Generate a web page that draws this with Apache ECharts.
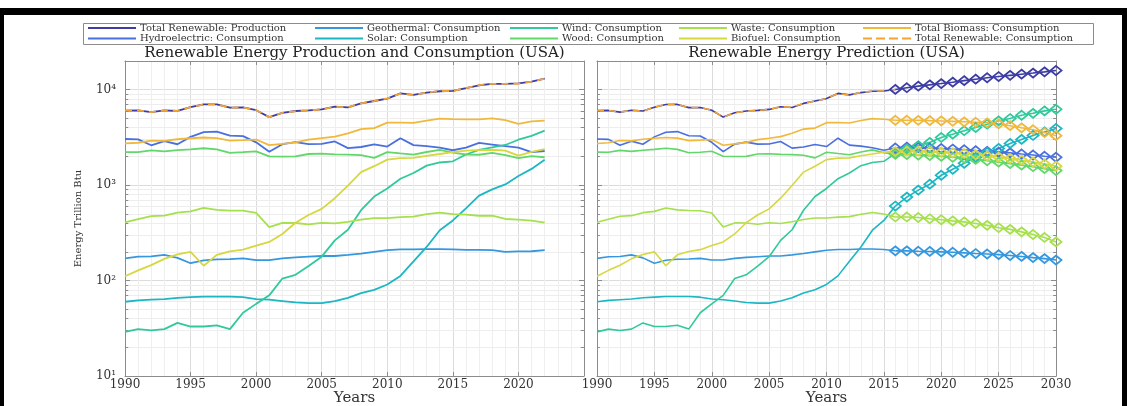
<!DOCTYPE html>
<html>
<head>
<meta charset="utf-8">
<script src="https://cdn.jsdelivr.net/npm/echarts@6/dist/echarts.min.js"></script>
<style>
  html, body { margin: 0; padding: 0; background: #fff; }
  #chart { width: 1127px; height: 406px; }
</style>
</head>
<body>
<div id="chart"></div>
<script>
// ---- Data: US renewable energy, trillion Btu ----
const years = [1990, 1991, 1992, 1993, 1994, 1995, 1996, 1997, 1998, 1999,
               2000, 2001, 2002, 2003, 2004, 2005, 2006, 2007, 2008, 2009,
               2010, 2011, 2012, 2013, 2014, 2015, 2016, 2017, 2018, 2019,
               2020, 2021, 2022];

const totalProduction = [6040, 6069, 5821, 6083, 5988, 6558, 7012, 7014, 6493, 6516,
                         6102, 5163, 5729, 5986, 6082, 6218, 6636, 6521, 7192, 7617,
                         8072, 9148, 8829, 9333, 9641, 9709, 10393, 11138, 11510, 11517,
                         11651, 12165, 13090];
const hydro = [3046, 3016, 2617, 2892, 2683, 3205, 3590, 3640, 3297, 3268,
               2811, 2242, 2689, 2825, 2690, 2703, 2869, 2446, 2511, 2669,
               2539, 3103, 2629, 2562, 2467, 2321, 2472, 2767, 2663, 2564,
               2470, 2220, 2280];
const geothermal = [171, 178, 179, 186, 173, 152, 163, 167, 168, 171,
                    164, 164, 171, 175, 178, 181, 181, 186, 192, 200,
                    208, 212, 212, 214, 214, 212, 210, 210, 209, 200,
                    202, 203, 208];
const solar = [60, 62, 63, 64, 66, 67, 68, 68, 68, 67,
               64, 63, 61, 59, 58, 58, 61, 66, 74, 80,
               91, 112, 159, 225, 337, 427, 570, 777, 904, 1017,
               1247, 1480, 1850];
const wind = [29, 31, 30, 31, 36, 33, 33, 34, 31, 46,
              57, 70, 105, 115, 142, 178, 264, 341, 546, 760,
              923, 1168, 1340, 1601, 1728, 1777, 2096, 2343, 2482, 2637,
              2993, 3285, 3720];
const wood = [2216, 2214, 2313, 2260, 2324, 2370, 2437, 2371, 2184, 2214,
              2262, 2006, 1995, 2002, 2121, 2137, 2099, 2089, 2059, 1931,
              2216, 2149, 2086, 2225, 2341, 2190, 2095, 2082, 2182, 2061,
              1915, 2010, 1960];
const waste = [408, 440, 473, 479, 515, 531, 577, 551, 542, 540,
               511, 364, 402, 401, 389, 403, 397, 413, 436, 452,
               452, 462, 468, 496, 516, 498, 490, 478, 480, 442,
               435, 425, 405];
const biofuel = [111, 128, 145, 169, 188, 200, 143, 186, 202, 211,
                 233, 254, 308, 404, 487, 564, 730, 990, 1370, 1580,
                 1850, 1920, 1930, 2030, 2120, 2220, 2300, 2330, 2350, 2300,
                 2040, 2230, 2380];
const totalBiomass = [2735, 2782, 2932, 2908, 3028, 3101, 3157, 3108, 2929, 2965,
                      3006, 2624, 2705, 2807, 2998, 3104, 3226, 3492, 3865, 3963,
                      4518, 4531, 4484, 4751, 4977, 4908, 4885, 4890, 5012, 4803,
                      4390, 4665, 4745];
const totalConsumption = [6040, 6069, 5821, 6083, 5988, 6560, 7013, 7018, 6494, 6517,
                          6104, 5164, 5734, 5948, 6065, 6231, 6630, 6541, 7202, 7599,
                          8100, 9118, 8793, 9359, 9691, 9704, 10387, 11147, 11495, 11529,
                          11575, 12160, 13050];

// Forecast 2016-2030
const predYears = [2016, 2017, 2018, 2019, 2020, 2021, 2022, 2023,
                   2024, 2025, 2026, 2027, 2028, 2029, 2030];
const predTotal = [10070, 10500, 10900, 11250, 11600, 12000, 12450, 12900,
                   13350, 13750, 14150, 14550, 14950, 15400, 15900];
const predHydro = [2450, 2500, 2480, 2450, 2420, 2390, 2350, 2300,
                   2260, 2220, 2180, 2120, 2070, 2010, 1960];
const predGeothermal = [205, 205, 203, 202, 200, 198, 195, 192,
                        190, 187, 183, 179, 174, 170, 164];
const predSolar = [604, 750, 887, 1024, 1270, 1468, 1696, 1958,
                   2208, 2428, 2738, 3013, 3316, 3610, 3925];
const predWind = [2150, 2400, 2600, 2806, 3160, 3420, 3720, 4020,
                  4350, 4720, 4990, 5400, 5660, 6000, 6240];
const predWood = [2100, 2090, 2070, 2040, 2000, 1960, 1910, 1860,
                  1800, 1740, 1680, 1620, 1560, 1490, 1420];
const predWaste = [464, 464, 458, 444, 434, 422, 412, 396,
                   379, 358, 344, 324, 304, 283, 254];
const predBiofuel = [2250, 2270, 2270, 2250, 2220, 2180, 2140, 2090,
                     2030, 1970, 1900, 1830, 1750, 1670, 1580];
const predBiomass = [4790, 4790, 4780, 4740, 4710, 4660, 4610, 4560,
                     4500, 4380, 4200, 3990, 3810, 3560, 3300];

const yMinorTicks = [20, 30, 40, 50, 60, 70, 80, 90,
                     200, 300, 400, 500, 600, 700, 800, 900,
                     2000, 3000, 4000, 5000, 6000, 7000, 8000, 9000];

// ---- Series definitions ----
const sources = [
  { name: 'Total Renewable: Production',  hist: totalProduction,  pred: predTotal,      color: '#3c3ca4' },
  { name: 'Hydroelectric: Consumption',   hist: hydro,            pred: predHydro,      color: '#4a6fdf' },
  { name: 'Geothermal: Consumption',      hist: geothermal,       pred: predGeothermal, color: '#3597de' },
  { name: 'Solar: Consumption',           hist: solar,            pred: predSolar,      color: '#1db6c3' },
  { name: 'Wind: Consumption',            hist: wind,             pred: predWind,       color: '#30c99c' },
  { name: 'Wood: Consumption',            hist: wood,             pred: predWood,       color: '#62d76a' },
  { name: 'Waste: Consumption',           hist: waste,            pred: predWaste,      color: '#a6e04c' },
  { name: 'Biofuel: Consumption',         hist: biofuel,          pred: predBiofuel,    color: '#d7d73f' },
  { name: 'Total Biomass: Consumption',   hist: totalBiomass,     pred: predBiomass,    color: '#f0b93c' },
  { name: 'Total Renewable: Consumption', hist: totalConsumption, pred: predTotal,      color: '#f2a536', dashed: true, histOnly: true }
];

const FONT = "'DejaVu Serif', serif";
const SUP = { '0': '\u2070', '1': '\u00b9', '2': '\u00b2', '3': '\u00b3', '4': '\u2074' };
const logLabel = v => {
  const e = Math.round(Math.log10(v));
  return Math.abs(v - Math.pow(10, e)) < 1e-6 * v ? '10' + String(e).split('').map(c => SUP[c]).join('') : '';
};

const pairs = (xs, ys) => xs.map((x, i) => [x, ys[i]]);
const lastHistIdx = years.indexOf(2015);
const panelMaxYear = [2025, 2030];

const series = [];

// Minor log grid lines and minor ticks on both vertical frame edges
[0, 1].forEach(g => {
  const xMax = panelMaxYear[g];
  const tickLen = 0.25;
  series.push({
    type: 'line', xAxisIndex: g * 2, yAxisIndex: g * 2, z: 1, zlevel: 0, silent: true,
    data: [], symbol: 'none',
    markLine: {
      silent: true, symbol: ['none', 'none'], label: { show: false }, z: 1,
      lineStyle: { color: '#ededed', width: 1, type: 'solid' },
      emphasis: { disabled: true },
      data: yMinorTicks.map(v => ({ yAxis: v }))
    }
  });
  series.push({
    type: 'line', xAxisIndex: g * 2, yAxisIndex: g * 2, z: 1, silent: true,
    data: [], symbol: 'none',
    markLine: {
      silent: true, symbol: ['none', 'none'], label: { show: false }, z: 1,
      lineStyle: { color: '#8c8c8c', width: 1, type: 'solid' },
      emphasis: { disabled: true },
      data: [
        ...yMinorTicks.map(v => [{ coord: [1990, v] }, { coord: [1990 + tickLen, v] }]),
        ...yMinorTicks.map(v => [{ coord: [xMax - tickLen, v] }, { coord: [xMax, v] }])
      ]
    }
  });
});

// Panel 1: history 1990-2022
sources.forEach(s => {
  series.push({
    name: s.name, type: 'line', xAxisIndex: 0, yAxisIndex: 0,
    data: pairs(years, s.hist), showSymbol: false, symbol: 'none',
    color: s.color,
    lineStyle: { color: s.color, width: 1.8, type: s.dashed ? [7, 5] : 'solid' },
    emphasis: { disabled: true }, z: 10
  });
});

// Panel 2: history 1990-2015 joined to the first forecast year
sources.forEach(s => {
  const d = pairs(years.slice(0, lastHistIdx + 1), s.hist.slice(0, lastHistIdx + 1));
  d.push([predYears[0], s.pred[0]]);
  series.push({
    name: s.name, type: 'line', xAxisIndex: 2, yAxisIndex: 2,
    data: d, showSymbol: false, symbol: 'none', color: s.color,
    lineStyle: { color: s.color, width: 1.6, type: s.dashed ? [7, 5] : 'solid' },
    emphasis: { disabled: true }, z: 10
  });
});

// Panel 2: forecast with diamond markers
sources.filter(s => !s.histOnly).forEach(s => {
  series.push({
    name: s.name, type: 'line', xAxisIndex: 2, yAxisIndex: 2,
    data: pairs(predYears, s.pred), symbol: 'diamond', symbolSize: [11, 9],
    showSymbol: true, color: s.color,
    itemStyle: { color: 'rgba(255,255,255,0)', borderColor: s.color, borderWidth: 1.8 },
    lineStyle: { color: s.color, width: 1.6 },
    emphasis: { disabled: true }, z: 11
  });
});

// ---- Axes ----
const gridLine = { show: true, lineStyle: { color: '#dcdcdc', width: 1 } };
const minorGridLine = { show: true, lineStyle: { color: '#efefef', width: 1 } };
const frameLine = { show: true, onZero: false, lineStyle: { color: '#8c8c8c', width: 1 } };

function xAxes(gridIndex, maxYear, hideLast) {
  return [
    {
      type: 'value', gridIndex, position: 'bottom', min: 1990, max: maxYear, interval: 5,
      axisLine: frameLine,
      axisTick: { show: true, inside: true, length: 4, lineStyle: { color: '#8c8c8c' } },
      minorTick: { show: false, splitNumber: 5 },
      splitLine: gridLine, minorSplitLine: minorGridLine,
      axisLabel: { show: true, margin: 3, color: '#333', fontFamily: FONT, fontSize: 12,
                   showMaxLabel: !hideLast, formatter: v => String(v) },
      name: 'Years', nameLocation: 'middle', nameGap: 15, nameMoveOverlap: false,
      nameTextStyle: { color: '#333', fontFamily: FONT, fontSize: 15 }
    },
    {
      type: 'value', gridIndex, position: 'top', min: 1990, max: maxYear, interval: 5,
      axisLine: frameLine,
      axisTick: { show: true, inside: true, length: 4, lineStyle: { color: '#8c8c8c' } },
      splitLine: { show: false }, axisLabel: { show: false }
    }
  ];
}

function yAxes(gridIndex, withLabels) {
  return [
    {
      type: 'log', logBase: 10, gridIndex, position: 'left', min: 10, max: 20000,
      axisLine: frameLine,
      axisTick: { show: true, inside: true, length: 5, lineStyle: { color: '#8c8c8c' } },
      splitLine: gridLine, minorSplitLine: { show: false },
      axisLabel: { show: withLabels, margin: 9, color: '#333', fontFamily: FONT, fontSize: 12,
                   formatter: logLabel },
      name: withLabels ? 'Energy Trillion Btu' : '', nameLocation: 'middle', nameGap: 42,
      nameMoveOverlap: false,
      nameTextStyle: { color: '#333', fontFamily: FONT, fontSize: 10 }
    },
    {
      type: 'log', logBase: 10, gridIndex, position: 'right', min: 10, max: 20000,
      axisLine: frameLine,
      axisTick: { show: true, inside: true, length: 5, lineStyle: { color: '#8c8c8c' } },
      splitLine: { show: false }, axisLabel: { show: false }
    }
  ];
}

// ---- Legend: five columns of two rows ----
const legendCols = [88, 315, 510, 679, 863];
const legendRows = [29, 39.5];
const legendOrder = [
  ['Total Renewable: Production', 'Hydroelectric: Consumption'],
  ['Geothermal: Consumption', 'Solar: Consumption'],
  ['Wind: Consumption', 'Wood: Consumption'],
  ['Waste: Consumption', 'Biofuel: Consumption'],
  ['Total Biomass: Consumption', 'Total Renewable: Consumption']
];
const dashIcon = 'path://M0 0h9v2H0z M13 0h9v2h-9z M26 0h9v2h-9z M39 0h9v2h-9z';
const legends = [];
legendOrder.forEach((col, ci) => {
  col.forEach((name, ri) => {
    legends.push({
      show: true, orient: 'horizontal', left: legendCols[ci], top: legendRows[ri] - 6,
      padding: 0, itemWidth: 48, itemHeight: 2, itemGap: 0, selectedMode: false,
      data: [{ name, icon: name === 'Total Renewable: Consumption' ? dashIcon : 'rect' }],
      textStyle: { color: '#333', fontFamily: FONT, fontSize: 10, padding: [0, 0, 0, -1] }
    });
  });
});

const option = {
  animation: false,
  backgroundColor: '#ffffff',
  grid: [
    { left: 125, top: 61, width: 459, height: 315, show: false, outerBoundsMode: 'none', containLabel: false },
    { left: 597, top: 61, width: 459, height: 315, show: false, outerBoundsMode: 'none', containLabel: false }
  ],
  xAxis: [...xAxes(0, panelMaxYear[0], true), ...xAxes(1, panelMaxYear[1], false)],
  yAxis: [...yAxes(0, true), ...yAxes(1, false)],
  legend: legends,
  graphic: [
    { type: 'rect', z: 100, shape: { x: 0, y: 8, width: 1127, height: 7 }, style: { fill: '#000' } },
    { type: 'rect', z: 100, shape: { x: 0, y: 8, width: 4, height: 398 }, style: { fill: '#000' } },
    { type: 'rect', z: 100, shape: { x: 1122, y: 8, width: 5, height: 398 }, style: { fill: '#000' } },
    { type: 'rect', z: -1, shape: { x: 83.5, y: 23.5, width: 1010, height: 21 },
      style: { fill: '#fff', stroke: '#8c8c8c', lineWidth: 1 } },
    { type: 'text', x: 354.5, y: 53, style: { text: 'Renewable Energy Production and Consumption (USA)',
      font: "15px 'DejaVu Serif', serif", fill: '#222', align: 'center', verticalAlign: 'middle' } },
    { type: 'text', x: 826.5, y: 53, style: { text: 'Renewable Energy Prediction (USA)',
      font: "15px 'DejaVu Serif', serif", fill: '#222', align: 'center', verticalAlign: 'middle' } }
  ],
  series
};

const chart = echarts.init(document.getElementById('chart'), null, { renderer: 'canvas' });
chart.setOption(option);
</script>
</body>
</html>
